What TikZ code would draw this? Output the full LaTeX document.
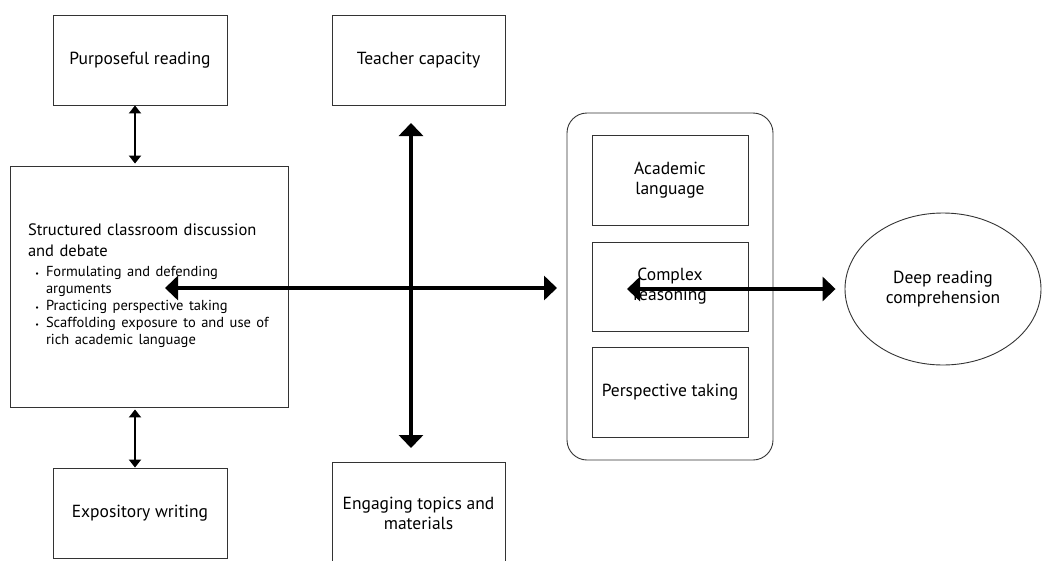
\documentclass[tikz,border=0pt]{standalone}
\usepackage{fontspec}
\setmainfont{PT Sans}
\usepackage{enumitem}
\usetikzlibrary{arrows.meta,shapes.geometric}

\begin{document}
\begin{tikzpicture}[
    x=1pt, y=-1pt,
    % Styles
    box/.style={% For the plain boxes
        rectangle,
        draw=black!80,
        line width=0.9pt,
        align=center,
        font=\fontsize{17.5}{20}\selectfont,
        },
    group/.style={% For the rounded container
        rectangle,
        rounded corners=20pt,
        draw=black!80,
        line width=0.9pt,
        minimum width=206pt,
        minimum height=347pt,
        },
    goal/.style={% For the outcome
        ellipse,
        draw=black!80,
        line width=0.9pt,
        align=center,
        minimum width=196pt,
        minimum height=152pt,
        font=\fontsize{17.5}{20}\selectfont,
        },
    BigArrow/.style={% Thick double arrows
        line width=4pt,
        {Triangle[width=24pt,length=13pt]}-{Triangle[width=24pt,length=13pt]},
        },
    SmallArrow/.style={% Thin double arrows
        line width=2pt,
        {Triangle[width=12pt,length=8pt]}-{Triangle[width=12pt,length=8pt]},
        },
    ]
    \useasboundingbox (0,0) rectangle (1042,560);

    % Left column
    \node [box, minimum width=174pt, minimum height=90pt] (pr) at (140,60) {Purposeful reading};
    \node [box, minimum width=278pt, minimum height=241pt, align=left,
           text width=242pt, inner xsep=18pt,
           font=\fontsize{16.5}{21}\selectfont] (scd) at (149,286.5) {%
        Structured classroom discussion\\and debate
        \par\vspace{1pt}
        {\fontsize{14.5}{17}\selectfont
        \begin{itemize}[leftmargin=18pt, labelsep=7pt, itemsep=0pt, topsep=0pt, parsep=0pt,
                        label={\footnotesize\textbullet}]
            \item Formulating and defending arguments
            \item Practicing perspective taking
            \item Scaffolding exposure to and use of rich academic language
        \end{itemize}}\par\vspace{-8pt}};
    \node [box, minimum width=174pt, minimum height=90pt] (ew) at (140,513) {Expository writing};

    % Middle column
    \node [box, minimum width=173pt, minimum height=90pt] (tc) at (418.5,60) {Teacher capacity};
    \node [box, minimum width=173pt, minimum height=102pt] (et) at (418.5,513) {Engaging topics and\\materials};

    % Container with the three skills
    \node [group] (skills) at (670,286.5) {};
    \node [box, minimum width=156pt, minimum height=90pt] (al) at (670,180) {Academic\\language};
    \node [box, minimum width=156pt, minimum height=89pt] (cr) at (670,286.5) {Complex\\reasoning};
    \node [box, minimum width=156pt, minimum height=90pt] (pt) at (670,392) {Perspective taking};

    % Outcome
    \node [goal] (drc) at (943,289) {Deep reading\\comprehension};

    % Ends of the cross
    \coordinate (up) at (411,123);
    \coordinate (down) at (411,448);
    \coordinate (left) at (165,288);
    \coordinate (right) at (557,288);
    \coordinate (inner) at (627,289);

    % Draw Arrows
    \draw [SmallArrow] ([xshift=-5pt]pr.south) -- ([xshift=-5pt,yshift=2pt]pr.south |- scd.north);
    \draw [SmallArrow] ([xshift=-5pt]ew.north) -- ([xshift=-5pt,yshift=-2pt]ew.north |- scd.south);
    \draw [BigArrow] (up) -- (down);
    \draw [BigArrow] (left) -- (right);
    \draw [BigArrow, shorten >=9pt] (inner) -- (drc.west);

\end{tikzpicture}
\end{document}
